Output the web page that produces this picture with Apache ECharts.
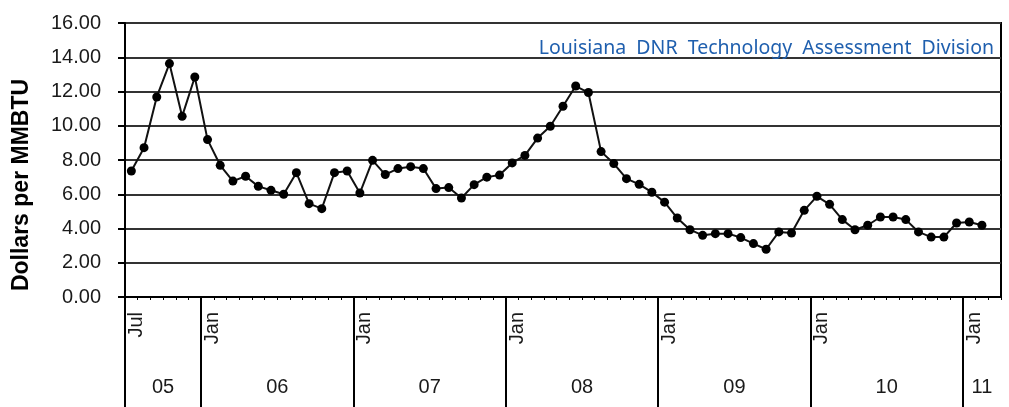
<!DOCTYPE html>
<html>
<head>
<meta charset="utf-8">
<script src="https://cdn.jsdelivr.net/npm/echarts@6/dist/echarts.min.js"></script>
<style>
  html, body { margin: 0; padding: 0; background: #fff; }
  #main { width: 1009px; height: 407px; }
</style>
</head>
<body>
<div id="main"></div>
<script>
// months shown on the axis: Jul 2005 .. Mar 2011
const monthNames = ['Jan', 'Feb', 'Mar', 'Apr', 'May', 'Jun', 'Jul', 'Aug', 'Sep', 'Oct', 'Nov', 'Dec'];
const yearLabels = ['05', '06', '07', '08', '09', '10', '11'];

// $/MMBTU, monthly, Jul 2005 .. Feb 2011
const price2005 = [7.36, 8.72, 11.68, 13.63, 10.55, 12.85];
const price2006 = [9.19, 7.69, 6.77, 7.05, 6.46, 6.23, 6.00, 7.26, 5.45, 5.16, 7.26, 7.36];
const price2007 = [6.07, 7.98, 7.15, 7.50, 7.61, 7.50, 6.33, 6.39, 5.78, 6.56, 7.00, 7.12];
const price2008 = [7.83, 8.27, 9.28, 9.97, 11.14, 12.32, 11.94, 8.49, 7.79, 6.91, 6.58, 6.12];
const price2009 = [5.54, 4.61, 3.93, 3.60, 3.70, 3.70, 3.47, 3.12, 2.79, 3.80, 3.74, 5.06];
const price2010 = [5.88, 5.41, 4.52, 3.93, 4.19, 4.67, 4.67, 4.52, 3.80, 3.50, 3.50, 4.32];
const price2011 = [4.38, 4.19];

const yTicks = [0, 2, 4, 6, 8, 10, 12, 14, 16];

// build month categories
const categories = [];
const yearStart = {}; // first category index of each year
yearLabels.forEach(function (yy, k) {
  const first = k === 0 ? 6 : 0;
  const last = k === yearLabels.length - 1 ? 2 : 11;
  yearStart[yy] = categories.length;
  for (let m = first; m <= last; m++) categories.push(monthNames[m] + '-' + yy);
});

const prices = [].concat(price2005, price2006, price2007, price2008, price2009, price2010, price2011);

// half-month grid for the year band underneath the axis
const halfCount = categories.length * 2 + 1;
const halfData = new Array(halfCount).fill('');
const bounds = new Set();
yearLabels.forEach(function (yy, k) {
  const s = yearStart[yy];
  const e = k < yearLabels.length - 1 ? yearStart[yearLabels[k + 1]] : categories.length;
  bounds.add(s * 2);
  halfData[s + e] = yy;
});

const txt = '#1a1a1a';
const font = 'Liberation Sans, Arial, sans-serif';

const chart = echarts.init(document.getElementById('main'));
chart.setOption({
  animation: false,
  backgroundColor: '#fff',
  title: {
    text: 'Louisiana  DNR  Technology  Assessment  Division',
    right: 10,
    top: 33,
    textStyle: { color: '#1F5FAE', fontSize: 19.5, fontWeight: 'normal', fontFamily: 'Noto Sans, sans-serif' }
  },
  grid: { left: 125, right: 8, top: 23, bottom: 110, show: true, borderColor: '#000', borderWidth: 2 },
  graphic: [{
    type: 'text',
    x: 22, y: 185,
    rotation: Math.PI / 2,
    style: {
      text: 'Dollars per MMBTU',
      fill: '#000',
      font: 'bold 23px ' + font,
      align: 'center',
      verticalAlign: 'middle'
    }
  }],
  xAxis: [{
    type: 'category',
    data: categories,
    boundaryGap: true,
    axisLine: { lineStyle: { color: '#000', width: 2 } },
    axisTick: { show: true, interval: 0, length: 3, lineStyle: { color: '#000', width: 1 } },
    axisLabel: {
      interval: function (i, v) { return i === 0 || v.indexOf('Jan') === 0; },
      formatter: function (v) { return v.split('-')[0]; },
      rotate: 90,
      margin: 15,
      verticalAlign: 'top',
      lineHeight: 10,
      color: txt,
      fontSize: 20,
      fontFamily: font
    },
    splitLine: { show: false }
  }, {
    type: 'category',
    data: halfData,
    boundaryGap: false,
    position: 'bottom',
    axisLine: { show: false },
    axisTick: {
      show: true,
      length: 110,
      interval: function (i) { return bounds.has(i); },
      lineStyle: { color: '#000', width: 2 }
    },
    axisLabel: {
      interval: function (i) { return halfData[i] !== ''; },
      margin: 80,
      color: txt,
      fontSize: 20,
      fontFamily: font
    },
    splitLine: { show: false }
  }],
  yAxis: {
    type: 'value',
    min: yTicks[0],
    max: yTicks[yTicks.length - 1],
    interval: yTicks[1] - yTicks[0],
    axisLine: { show: true, lineStyle: { color: '#000', width: 2 } },
    axisTick: { show: true, length: 7, lineStyle: { color: '#000', width: 2 } },
    axisLabel: {
      formatter: function (v) { return v.toFixed(2); },
      margin: 24,
      color: txt,
      fontSize: 20,
      fontFamily: font
    },
    splitLine: { lineStyle: { color: '#333', width: 2 } }
  },
  series: [{
    type: 'line',
    data: prices,
    xAxisIndex: 0,
    symbol: 'circle',
    symbolSize: 9,
    showAllSymbol: true,
    lineStyle: { color: '#111', width: 2 },
    itemStyle: { color: '#000' }
  }]
});
</script>
</body>
</html>
